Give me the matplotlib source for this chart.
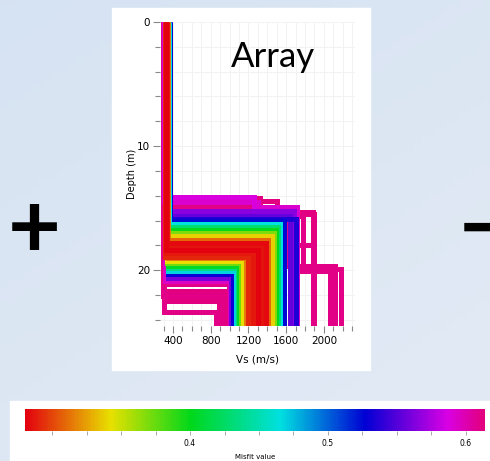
import numpy as np
import matplotlib.pyplot as plt
from matplotlib.colors import LinearSegmentedColormap, Normalize
from matplotlib.cm import ScalarMappable
from matplotlib.patches import Rectangle
from matplotlib.ticker import MultipleLocator

W, H = 490, 461

# misfit colour scale (Geopsy-like)
scale_colors = ['#e3000f', '#e8e000', '#00d81a', '#00e0e0', '#0000d4', '#d800e4', '#e2007c']
scale_pos = [0.0, 0.185, 0.36, 0.555, 0.74, 0.92, 1.0]
misfit_min, misfit_max = 0.2804, 0.6138
cbar_ticks = [0.4, 0.5, 0.6]

# Vs profiles: misfit, layer velocities (m/s), interface depths (m)
misfits = [
    0.612, 0.612, 0.611, 0.611, 0.612, 0.611, 0.610,
    0.611, 0.612, 0.611, 0.612, 0.610,
    0.595, 0.592, 0.588,
    0.565, 0.560, 0.555,
    0.535, 0.530, 0.525,
    0.468, 0.465,
    0.435, 0.430,
    0.405, 0.400,
    0.372, 0.370,
    0.342, 0.338,
    0.315, 0.310,
    0.298, 0.295, 0.291, 0.288, 0.286, 0.284, 0.281,
]
vs_layers = [
    [290, 1320, 1500, 1900], [295, 1320, 1640], [300, 1780, 2180], [295, 1710, 2060],
    [300, 1880], [300, 1520, 1880], [300, 1600, 2120],
    [300, 990], [300, 950], [295, 920], [300, 890], [300, 860],
    [310, 1000], [305, 1300, 1720], [300, 1260],
    [370, 1680], [350, 1015], [365, 1640],
    [360, 1700], [350, 1040], [365, 1580],
    [345, 1065], [355, 1530],
    [345, 1085], [350, 1510],
    [345, 1100], [350, 1495],
    [340, 1120], [345, 1470],
    [340, 1145], [345, 1445],
    [345, 1170], [340, 1410],
    [330, 1225], [335, 1370], [320, 1200], [330, 1250], [335, 1350], [325, 1390], [330, 1300],
]
interfaces = [
    [14.2, 14.45, 15.5], [14.6, 15.4], [15.6, 19.9], [16.0, 20.1],
    [15.3], [15.0, 18.0], [15.8, 19.7],
    [21.1], [21.7], [22.1], [22.5], [23.35],
    [20.9], [14.5, 14.9], [14.1],
    [15.2], [20.65], [15.6],
    [15.9], [20.3], [16.05],
    [20.05], [16.3],
    [19.85], [16.55],
    [19.65], [16.8],
    [19.45], [17.0],
    [19.25], [17.25],
    [19.05], [17.6],
    [18.75], [17.95], [18.9], [18.6], [18.1], [17.85], [18.35],
]

cmap = LinearSegmentedColormap.from_list('misfit', list(zip(scale_pos, scale_colors)))
norm = Normalize(misfit_min, misfit_max)


def fx(px):
    return px / W


def fy(py):
    return 1 - py / H


fig = plt.figure(figsize=(W / 100, H / 100), dpi=100)

# slide background with the two white panels
bg = fig.add_axes([0, 0, 1, 1])
gx, gy = np.meshgrid(np.linspace(0, 1, 64), np.linspace(0, 1, 64))
t = (0.6 * gy + 0.4 * gx)[..., None]
top = np.array([0.84, 0.89, 0.95])
bot = np.array([0.89, 0.92, 0.96])
bg.imshow(top * (1 - t) + bot * t, extent=[0, 1, 0, 1], aspect='auto', origin='upper')
bg.add_patch(Rectangle((fx(112), fy(370)), (370 - 112) / W, (370 - 8) / H, color='white'))
bg.add_patch(Rectangle((fx(10), fy(461)), (490 - 10) / W, (461 - 401) / H, color='white'))
bg.set_xlim(0, 1)
bg.set_ylim(0, 1)
bg.axis('off')

# profiles, worst misfit drawn first
ax = fig.add_axes([fx(160), fy(326), (355 - 160) / W, (326 - 22) / H])
order = np.argsort(misfits)[::-1]
for i in order:
    vs = vs_layers[i]
    d = interfaces[i]
    xs, ys = [vs[0]], [0]
    for k, z in enumerate(d):
        xs += [vs[k], vs[k + 1]]
        ys += [z, z]
    xs.append(vs[-1])
    ys.append(30)
    ax.plot(xs, ys, color=cmap(norm(misfits[i])), lw=3.6,
            solid_joinstyle='miter', solid_capstyle='butt')

ax.set_xlim(262, 2330)
ax.set_ylim(24.5, 0)
ax.xaxis.set_major_locator(MultipleLocator(400))
ax.xaxis.set_minor_locator(MultipleLocator(100))
ax.yaxis.set_major_locator(MultipleLocator(10))
ax.yaxis.set_minor_locator(MultipleLocator(2))
ax.grid(True, which='both', color='#f2f2f2', lw=0.7)
ax.set_axisbelow(True)
for s in ax.spines.values():
    s.set_visible(False)
ax.tick_params(which='major', length=5, width=0.8, color='#888888', labelsize=7.5, pad=2)
ax.tick_params(which='minor', length=3.5, width=0.8, color='#888888')
ax.set_xlabel('Vs (m/s)', fontsize=7.5, labelpad=6)
ax.set_ylabel('Depth (m)', fontsize=7, labelpad=0)

fig.text(fx(273), fy(67), 'Array', ha='center', va='baseline', fontsize=25, family='Lato')

# colour bar
cax = fig.add_axes([fx(25), fy(431), 460 / W, 22 / H])
cb = fig.colorbar(ScalarMappable(norm=norm, cmap=cmap), cax=cax, orientation='horizontal')
cb.outline.set_visible(False)
cb.set_ticks(cbar_ticks)
cax.xaxis.set_minor_locator(MultipleLocator(0.025))
cax.tick_params(which='both', length=3, width=0.6, color='#999999', labelsize=5.5, pad=3)
cb.set_label('Misfit value', fontsize=5, labelpad=4)

fig.text(fx(34), fy(232), '+', ha='center', va='center', fontsize=66,
         fontweight='bold', family='Lato')
fig.text(fx(458), fy(232), '\u2212', ha='left', va='center', fontsize=66,
         fontweight='bold', family='Lato')

fig.savefig('out.png', dpi=100)
